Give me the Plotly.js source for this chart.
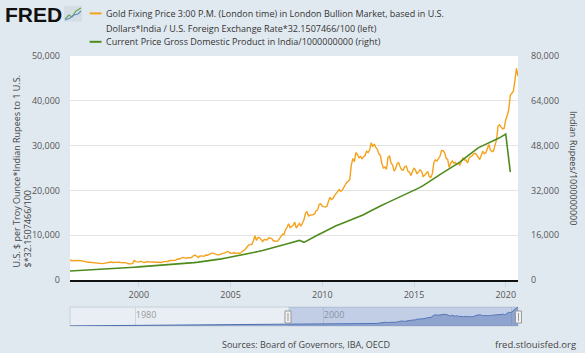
<!DOCTYPE html>
<html><head><meta charset="utf-8">
<script src="https://cdn.plot.ly/plotly-3.0.1.min.js"></script>
<style>html,body{margin:0;padding:0;background:#e1e9f0;}#chart{width:585px;height:353px;}</style>
</head><body><div id="chart"></div>
<script>
// ---- DATA ----
// Gold fixing price (USD/oz) * INR per USD * 32.1507466/100, monthly, Apr 1996 .. Sep 2020
const goldStart = '1996-04';
const goldValues = [
  4334,4411,4283,4310,4442,4396,4361,4326,4247,
  4097,4005,4063,3959,3959,3925,3729,3750,3780,3782,3660,3652,
  3661,3724,3759,3931,3884,3971,4004,3899,3949,4025,4008,3986,
  3922,3935,3912,3871,3820,3630,3564,3594,3706,4339,4088,3958,
  3995,4205,4009,3925,3890,4096,4062,4049,4029,4019,4002,4093,
  3977,3917,3940,3912,4110,4080,4067,4134,4340,4367,4259,4259,
  4379,4634,4613,4748,4947,5047,4926,4844,4964,4933,4954,5150,
  5498,5517,5203,4998,5376,5356,5236,5324,5593,5532,5703,5967,
  6043,5898,5822,5689,5566,5734,5886,5954,6003,6171,6365,6224,
  5957,5943,6083,6027,5902,6042,5930,6140,6421,6770,6994,7477,
  7837,7905,7969,8806,9867,8814,9478,9448,8863,8572,9051,9019,
  8987,9429,9266,9226,8762,8605,8637,8723,9238,9575,10222,10184,
  11261,11768,12573,11690,12033,12233,12921,11572,12153,12635,11988,12750,
  13461,14946,15226,14335,14470,14538,14564,14737,15498,15660,16884,16989,
  16498,16300,16281,16424,17743,18458,17950,18203,18838,19171,19732,20169,
  19792,20026,20602,21041,21797,22072,22454,25574,27118,26390,28458,27990,
  27312,27570,27071,27479,27772,28734,28442,29065,30632,29768,30339,29578,
  29171,28089,27861,26007,25003,25216,24724,27369,27670,26063,25660,24319,
  24837,26038,26201,25225,24556,24549,25331,25375,24259,24083,23328,24210,
  25017,24458,23691,24149,24593,24262,23106,23378,23944,24216,23079,22868,
  23736,26312,26840,26554,27101,27609,28886,28843,28435,27170,26906,25126,
  26098,26581,26081,26273,25798,26088,25651,26358,27227,26790,26811,26110,
  27216,27558,27689,28156,28277,27945,27344,26896,27832,28750,28185,28413,
  29367,30216,29048,28671,28814,30322,31254,34336,34637,34126,33744,33878,
  35760,36711,38080,41231,41763,42153,44512,47264,45479
];
// Current price GDP in India / 1e9 (INR bn), quarterly, 1996Q2 .. 2020Q2
const gdpStart = '1996-04';
const gdpValues = [
  3200,3280,3360,
  3440,3530,3620,3710,
  3810,3910,4020,4130,
  4240,4350,4460,4570,
  4680,4790,4900,5010,
  5120,5240,5360,5490,
  5620,5760,5910,6060,
  6220,6390,6570,6760,
  6960,7250,7550,7850,
  8150,8450,8750,9050,
  9400,9750,10150,10550,
  10950,11400,11850,12300,
  12750,13250,13700,14150,
  13450,14400,15200,16050,
  16900,17750,18550,19350,
  20000,20600,21200,21800,
  22500,23300,24200,25100,
  25900,26700,27450,28200,
  28900,29650,30400,31200,
  32000,32800,33700,34700,
  35800,36900,38000,39000,
  40000,41000,42100,43400,
  44700,46000,47200,48000,
  48700,49500,50300,51100,
  52100,38500
];
// Earlier gold history shown only in the range navigator (annual, 1973..1995)
const navYears = [1973,1974,1975,1976,1977,1978,1979,1980,1981,1982,1983,1984,1985,1986,1987,1988,1989,1990,1991,1992,1993,1994,1995];
const navEarly = [240,400,435,360,416,509,800,1554,1281,1144,1377,1318,1261,1491,1863,1953,1985,2155,2642,2864,3530,3877,4000];

const legendGold = ['Gold Fixing Price 3:00 P.M. (London time) in London Bullion Market, based in U.S.',
                    'Dollars*India / U.S. Foreign Exchange Rate*32.1507466/100 (left)'];
const legendGdp = 'Current Price Gross Domestic Product in India/1000000000 (right)';
const leftTitle = 'U.S. $ per Troy Ounce*Indian Rupees to 1 U.S.<br>$*32.1507466/100';
const rightTitle = 'Indian Rupees/1000000000';
const sourceText = 'Sources: Board of Governors, IBA, OECD';
const siteText = 'fred.stlouisfed.org';

// ---- helpers ----
function monthSeq(start, n, step) {
  const [y0, m0] = start.split('-').map(Number);
  const out = [];
  for (let i = 0; i < n; i++) {
    const t = (m0 - 1) + i * step;
    const y = y0 + Math.floor(t / 12), m = (t % 12) + 1;
    out.push(y + '-' + String(m).padStart(2, '0') + '-01');
  }
  return out;
}
const goldDates = monthSeq(goldStart, goldValues.length, 1);
const gdpDates = monthSeq(gdpStart, gdpValues.length, 3);
const navX = navYears.map(y => y + '-01-01').concat(goldDates);
const navY = navEarly.concat(goldValues);

const W = 585, H = 353, L = 70, R = 67, T = 56, B = 27;
const PW = W - L - R, PH = H - T - B;
const fx = px => (px - L) / PW;
const fy = py => (H - B - py) / PH;
const mainBottom = fy(280);
const navTop = fy(307);

const font = 'Open Sans, Liberation Sans, sans-serif';
const orange = '#f4a21c', green = '#4e8b1d';

const traces = [
  {x: goldDates, y: goldValues, type: 'scatter', mode: 'lines', xaxis: 'x', yaxis: 'y',
   line: {color: orange, width: 1.4}, hoverinfo: 'skip'},
  {x: gdpDates, y: gdpValues, type: 'scatter', mode: 'lines', xaxis: 'x', yaxis: 'y2',
   line: {color: green, width: 1.6}, hoverinfo: 'skip'},
  {x: navX, y: navY, type: 'scatter', mode: 'lines', xaxis: 'x2', yaxis: 'y3', fill: 'tozeroy',
   line: {color: '#4a6fb0', width: 1}, fillcolor: 'rgba(69,105,175,0.45)', hoverinfo: 'skip'}
];

const tickFont = {family: font, size: 9, color: '#555'};
const ann = (text, px, py, opts) => Object.assign({text: text, x: fx(px), y: fy(py), xref: 'paper', yref: 'paper',
  showarrow: false, font: {family: font, size: 9, color: '#333'}}, opts || {});

const layout = {
  width: W, height: H,
  margin: {l: L, r: R, t: T, b: B, pad: 0},
  paper_bgcolor: '#e1e9f0', plot_bgcolor: 'rgba(0,0,0,0)',
  showlegend: false,
  xaxis: {domain: [0, 1], anchor: 'y', type: 'date', range: ['1996-04-01', '2020-09-01'],
    tick0: '2000-01-01', dtick: 'M60', tickformat: '%Y', ticks: 'outside', ticklen: 5, tickcolor: '#ccd6eb',
    showline: true, linecolor: '#111', linewidth: 2, showgrid: false, zeroline: false, tickfont: tickFont, fixedrange: true},
  yaxis: {domain: [mainBottom, 1], anchor: 'x', range: [0, 50000], dtick: 10000, tickformat: ',',
    showgrid: true, gridcolor: '#e3e3e3', zeroline: false, ticks: '', ticklabelstandoff: 9, tickfont: tickFont, fixedrange: true},
  yaxis2: {overlaying: 'y', side: 'right', anchor: 'x', range: [0, 80000], dtick: 16000, tickformat: ',',
    showgrid: false, zeroline: false, ticks: '', ticklabelstandoff: 12, tickfont: tickFont, fixedrange: true},
  xaxis2: {domain: [0, 1], anchor: 'y3', type: 'date', range: ['1973-01-01', '2020-09-01'],
    tick0: '1980-01-01', dtick: 'M240', tickformat: '%Y', ticks: '', ticklabelposition: 'inside right',
    showgrid: true, gridcolor: '#cdd6e1', showline: false, zeroline: false,
    tickfont: {family: font, size: 9, color: '#999'}, fixedrange: true},
  yaxis3: {domain: [0, navTop], anchor: 'x2', range: [0, 48000], showticklabels: false, showgrid: false,
    zeroline: false, ticks: '', fixedrange: true},
  shapes: [
    {type: 'rect', xref: 'paper', yref: 'paper', x0: 0, x1: 1, y0: mainBottom, y1: 1, fillcolor: '#ffffff', line: {width: 0}, layer: 'below'},
    {type: 'rect', xref: 'paper', yref: 'paper', x0: 0, x1: 1, y0: 0, y1: navTop, fillcolor: '#e9eef4', line: {color: '#c9d0d9', width: 1}, layer: 'below'},
    {type: 'rect', xref: 'x2', yref: 'paper', x0: '1996-04-01', x1: '2020-09-01', y0: 0, y1: navTop, fillcolor: 'rgba(102,133,194,0.3)', line: {width: 0}, layer: 'above'},
    {type: 'rect', xref: 'paper', yref: 'paper', x0: fx(285), x1: fx(291), y0: fy(323), y1: fy(311), fillcolor: '#f2f2f2', line: {color: '#999', width: 1}, layer: 'above'},
    {type: 'line', xref: 'paper', yref: 'paper', x0: fx(288), x1: fx(288), y0: fy(321), y1: fy(313), line: {color: '#999', width: 1}, layer: 'above'},
    {type: 'rect', xref: 'paper', yref: 'paper', x0: fx(515.5), x1: fx(521.5), y0: fy(323), y1: fy(311), fillcolor: '#f2f2f2', line: {color: '#999', width: 1}, layer: 'above'},
    {type: 'line', xref: 'paper', yref: 'paper', x0: fx(518.5), x1: fx(518.5), y0: fy(321), y1: fy(313), line: {color: '#999', width: 1}, layer: 'above'},
    {type: 'line', xref: 'paper', yref: 'paper', x0: fx(89.6), x1: fx(101.5), y0: fy(13.4), y1: fy(13.4), line: {color: orange, width: 2}},
    {type: 'line', xref: 'paper', yref: 'paper', x0: fx(89.6), x1: fx(101.5), y0: fy(41.8), y1: fy(41.8), line: {color: green, width: 2}},
    {type: 'rect', xref: 'paper', yref: 'paper', x0: fx(64), x1: fx(82), y0: fy(21.6), y1: fy(5.6), fillcolor: '#d5dde5', line: {width: 0}},
    {type: 'path', xref: 'paper', yref: 'paper', path: 'M ' + fx(65) + ',' + fy(19) + ' L ' + fx(69) + ',' + fy(15) + ' L ' + fx(72) + ',' + fy(17) + ' L ' + fx(76) + ',' + fy(11) + ' L ' + fx(81) + ',' + fy(8), line: {color: '#6aa84f', width: 1.2}},
    {type: 'path', xref: 'paper', yref: 'paper', path: 'M ' + fx(65) + ',' + fy(20) + ' L ' + fx(70) + ',' + fy(18) + ' L ' + fx(74) + ',' + fy(15) + ' L ' + fx(78) + ',' + fy(14) + ' L ' + fx(81) + ',' + fy(11), line: {color: '#5b8bc7', width: 1.2}}
  ],
  annotations: [
    ann('<b>FRED</b>', 3, 14, {xanchor: 'left', yanchor: 'middle', font: {family: 'Liberation Sans, Arial, sans-serif', size: 21, color: '#111'}}),
    ann(legendGold[0], 104, 13.4, {xanchor: 'left', yanchor: 'middle'}),
    ann(legendGold[1], 104, 28, {xanchor: 'left', yanchor: 'middle'}),
    ann(legendGdp, 104, 41.8, {xanchor: 'left', yanchor: 'middle'}),
    ann(leftTitle, 22, 270, {xanchor: 'center', yanchor: 'bottom', textangle: -90, align: 'left', font: {family: font, size: 9, color: '#444'}}),
    ann(rightTitle, 574, 168, {xanchor: 'center', yanchor: 'middle', textangle: 90, font: {family: font, size: 9, color: '#444'}}),
    ann(sourceText, 306, 344.4, {xanchor: 'center', yanchor: 'middle', font: {family: font, size: 9, color: '#444'}}),
    ann(siteText, 578, 344.4, {xanchor: 'right', yanchor: 'middle', font: {family: font, size: 9.5, color: '#444'}})
  ]
};

Plotly.newPlot('chart', traces, layout, {displayModeBar: false, staticPlot: true});
</script>
</body></html>
